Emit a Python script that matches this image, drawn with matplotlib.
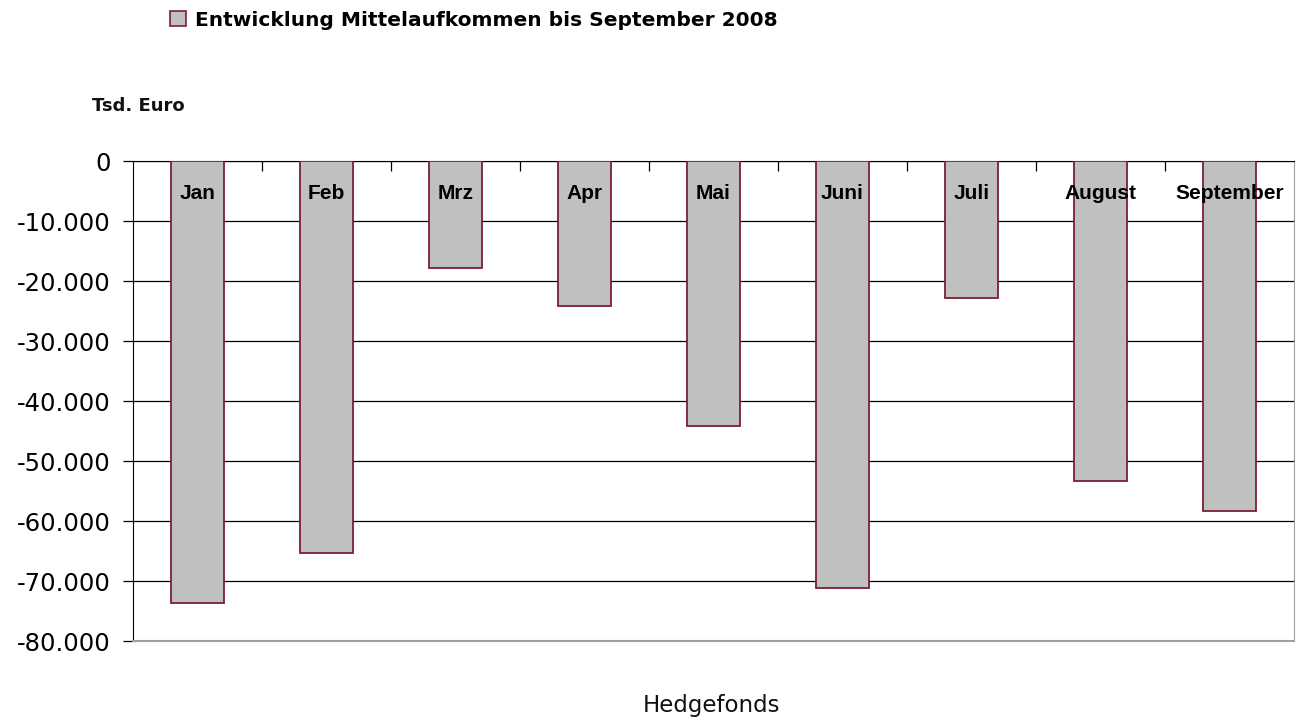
import matplotlib
matplotlib.use("Agg")
import matplotlib.pyplot as plt
from matplotlib.patches import Patch
from matplotlib.ticker import FuncFormatter, MultipleLocator

# Mittelaufkommen Hedgefonds 2008, Tsd. Euro
monate = ["Jan", "Feb", "Mrz", "Apr", "Mai", "Juni", "Juli", "August", "September"]
werte = [-73600, -65300, -17800, -24200, -44100, -71100, -22800, -53300, -58300]

fig = plt.figure(figsize=(13.01, 7.18), dpi=100)
ax = fig.add_axes([0.1022, 0.1072, 0.8924, 0.6685])

x = list(range(len(monate)))
ax.bar(x, werte, width=0.41, color="#c0c0c0", edgecolor="#7b2030", linewidth=1.3, zorder=3)

ax.set_xlim(-0.5, len(monate) - 0.5)
ax.set_ylim(-80000, 0)
ax.yaxis.set_major_locator(MultipleLocator(10000))
ax.yaxis.set_major_formatter(FuncFormatter(lambda v, p: "{:,.0f}".format(v).replace(",", ".")))
ax.grid(axis="y", color="black", linewidth=0.9, zorder=0)
for lab in ax.get_yticklabels():
    lab.set_fontfamily("DejaVu Sans")
    lab.set_fontsize(17.5)
ax.tick_params(axis="y", direction="out", length=7, width=0.9, pad=9)

ax.set_xticks([i + 0.5 for i in x[:-1]])
ax.set_xticklabels([])
ax.tick_params(axis="x", direction="in", length=7, width=0.9, top=True, bottom=False)

ax.spines["left"].set_color("black")
ax.spines["top"].set_color("black")
ax.spines["right"].set_color("#a0a0a0")
ax.spines["bottom"].set_color("#a0a0a0")
ax.spines["bottom"].set_linewidth(1.5)

for i, m in enumerate(monate):
    ax.text(i, -5400, m, ha="center", va="center", fontsize=15, fontweight="bold",
            family="Liberation Sans", zorder=4)

fig.text(0.0707, 0.853, "Tsd. Euro", fontsize=13, fontweight="bold", family="DejaVu Sans",
         va="center", color="#111111")
fig.text(0.547, 0.018, "Hedgefonds", fontsize=16.5, family="DejaVu Sans", ha="center",
         va="center", color="#111111")

handle = Patch(facecolor="#c0c0c0", edgecolor="#7b2030", linewidth=1.2)
fig.legend([handle], ["Entwicklung Mittelaufkommen bis September 2008"], loc="center left",
           bbox_to_anchor=(0.117, 0.972), frameon=False, handlelength=0.8, handleheight=0.8,
           handletextpad=0.4, prop={"family": "DejaVu Sans", "size": 14.5, "weight": "bold"})

fig.savefig("out.png", dpi=100)
